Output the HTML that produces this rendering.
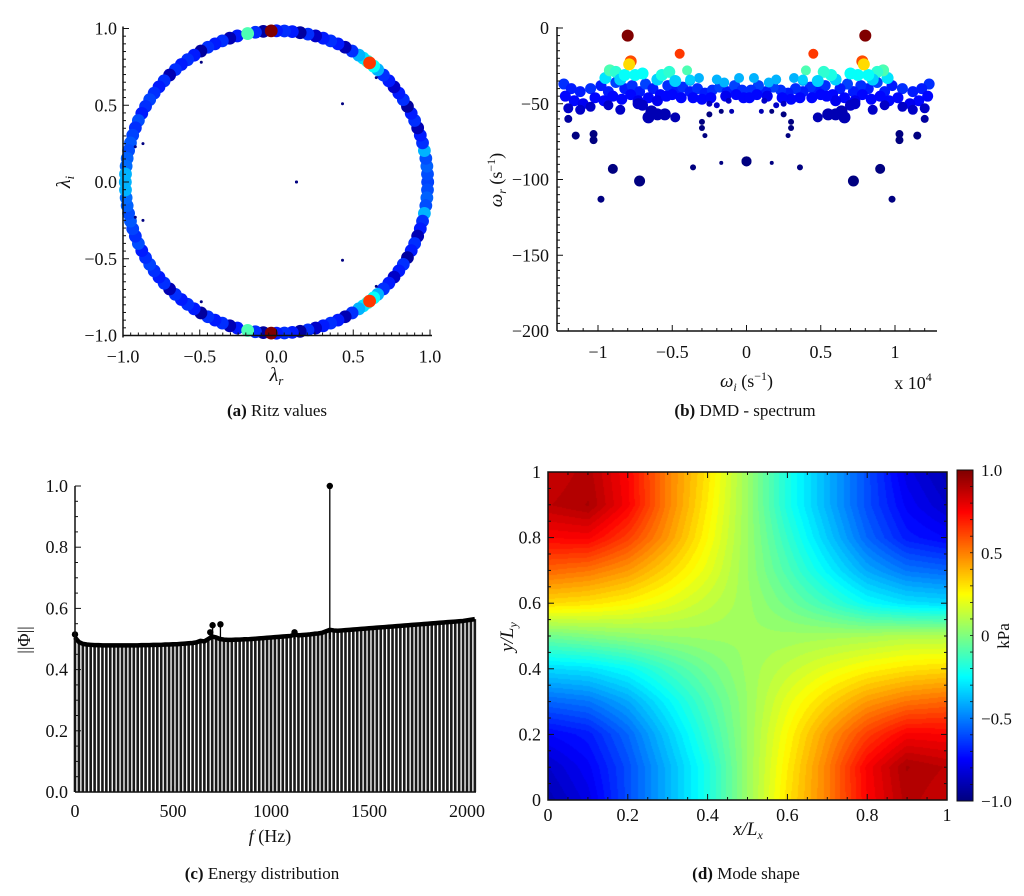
<!DOCTYPE html>
<html><head><meta charset="utf-8"><style>
html,body{margin:0;padding:0;background:#fff;}
#wrap{position:relative;width:1024px;height:896px;overflow:hidden;}
svg{position:absolute;left:0;top:0;}
canvas{position:absolute;}
text{font-family:"Liberation Serif",serif;fill:#111;}
</style></head><body>
<div id="wrap">
<canvas id="heat" style="left:548px;top:472px" width="399" height="328"></canvas>
<canvas id="cbar" style="left:957px;top:470px" width="16" height="331"></canvas>
<svg id="svg" width="1024" height="896"></svg>
</div>
<script>
// ---------- DATA ----------
// (a) Ritz values: upper-half angles (deg), colour levels (0..1); lower half = complex conjugates
const ritzAngles = [0,3,6,9,12,15,18,21,24,27,30,33,36,39,42,45,48,50,53,55,57,60,63,66,69,72,75,78,81,84,87,90,95,98,105,108,111,114,117,120,123,126,129,132,135,138,141,144,147,150,153,156,159,162,165,168,171,174,177,180,101,52,92];
const ritzColors = [0.24,0.25,0.27,0.25,0.3,0.22,0.2,0.1,0.22,0.2,0.08,0.22,0.2,0.12,0.2,0.22,0.3,0.38,0.42,0.35,0.3,0.22,0.1,0.2,0.22,0.2,0.12,0.22,0.08,0.2,0.22,0.2,0.08,0.22,0.2,0.1,0.22,0.2,0.22,0.08,0.2,0.22,0.2,0.22,0.1,0.22,0.2,0.22,0.24,0.22,0.2,0.25,0.22,0.24,0.26,0.25,0.27,0.28,0.3,0.3,0.45,0.82,1.0];
const ritzInnerRe = [-0.49,0.43,0.13,-0.92,-0.87,0.65];
const ritzInnerIm = [0.78,0.51,0,0.23,0.25,0.68];

// (b) DMD spectrum: [omega_i (x1e4), omega_r, marker size, colour level]; conjugate pairs mirrored
const specWi = [-1.23,-1.18,-1.12,-1.05,-0.98,-0.93,-0.88,-0.82,-0.77,-0.72,-0.68,-0.63,-0.58,-0.53,-0.47,-0.43,-0.38,-0.33,-0.28,-0.23,-0.18,-0.13,-0.08,-0.03,
 -1.22,-1.16,-1.1,-1.02,-0.96,-0.9,-0.84,-0.78,-0.73,-0.66,-0.6,-0.54,-0.5,-0.44,-0.36,-0.3,-0.24,-0.14,-0.07,-0.02,
 -1.2,-1.12,-1.05,-0.93,-0.85,-0.7,-0.64,-0.6,-0.66,-0.55,-0.73,-0.12,-0.1,-0.25,-0.2,
 -0.38,-0.32,-0.2,-0.15,-0.05,
 -0.95,-0.92,-0.88,-0.85,-0.82,-0.75,-0.7,-0.6,-0.57,-0.52,-0.48,-0.4,-0.38,
 -1.2,-1.15,-1.03,-1.03,-0.98,-0.9,-0.72,-0.48,-0.36,-0.28,-0.3,-0.3,-0.25,-0.17,-0.17,0,
 -0.78,-0.79,-0.8,-0.45];
const specWr = [-37,-40,-42,-40,-38,-42,-36,-40,-38,-42,-37,-40,-44,-38,-41,-39,-42,-40,-43,-41,-39,-42,-38,-41,
 -45,-48,-50,-46,-48,-45,-47,-44,-48,-46,-48,-45,-44,-46,-46,-47,-46,-45,-44,-46,
 -53,-54,-52,-51,-54,-51,-55,-57,-59,-57,-50,-48,-55,-50,-51,
 -35,-33,-34,-36,-33,
 -33,-28,-29,-34,-31,-31,-30,-34,-31,-29,-35,-28,-34,
 -60,-71,-70,-74,-113,-93,-101,-59,-92,-71,-62,-66,-57,-55,-89,-88,
 -22,-24,-5,-17];
const specSize = [5.5,5.5,5.5,5.5,5.5,5.5,5.5,5.5,5.5,5.5,5.5,5.5,5.5,5.5,5.5,5.5,5.5,5.5,5.5,5.5,5.5,5.5,5.5,5.5,
 5.5,5.5,5.5,5.5,5.5,5.5,5.5,5.5,5.5,5.5,5.5,5.5,5.5,5.5,5.5,5.5,5.5,5.5,5.5,5.5,
 5,5,5,5,5,5.5,6,6,6,6,5.5,3,2.5,3,3,
 5,5,5,5,5,
 6,6,6,6,6,6,6,6,6,6,6,5,5,
 4,4,4,4,3.5,5,5.5,5,3,2.5,3,3,3,2.5,2,5,
 6,6,6,5];
const specColor = [0.22,0.2,0.2,0.22,0.2,0.2,0.24,0.2,0.22,0.2,0.24,0.2,0.18,0.22,0.2,0.22,0.2,0.22,0.2,0.22,0.24,0.2,0.24,0.22,
 0.18,0.18,0.16,0.18,0.18,0.18,0.18,0.18,0.16,0.18,0.16,0.18,0.18,0.18,0.18,0.18,0.18,0.16,0.18,0.18,
 0.12,0.12,0.12,0.12,0.12,0.12,0.1,0.1,0.1,0.1,0.12,0.12,0.1,0.12,0.12,
 0.3,0.3,0.3,0.3,0.3,
 0.35,0.45,0.42,0.33,0.38,0.38,0.38,0.33,0.4,0.42,0.33,0.45,0.33,
 0.08,0.05,0.05,0.05,0.05,0.05,0.05,0.1,0.05,0.05,0.05,0.05,0.05,0.05,0.05,0.05,
 0.8,0.66,1.0,0.82];

// (c) Energy distribution
const freqs = [];
for (let k=0;k<=102;k++) freqs.push(k*20);
const norms = [0.505,0.49,0.484,0.482,0.481,0.48,0.48,0.479,0.479,0.479,0.479,0.479,0.479,0.479,0.479,0.479,0.479,0.48,0.48,0.48,0.481,0.481,0.481,0.482,0.482,0.483,0.483,0.484,0.485,0.486,0.487,0.489,0.494,0.492,0.5,0.508,0.505,0.5,0.498,0.497,0.497,0.498,0.498,0.499,0.499,0.5,0.501,0.502,0.503,0.504,0.505,0.506,0.507,0.508,0.509,0.51,0.515,0.512,0.513,0.514,0.515,0.517,0.518,0.52,0.525,0.53,0.528,0.527,0.528,0.529,0.53,0.531,0.532,0.533,0.534,0.535,0.536,0.537,0.538,0.539,0.54,0.541,0.542,0.543,0.544,0.545,0.546,0.547,0.548,0.549,0.55,0.551,0.552,0.553,0.554,0.555,0.556,0.557,0.558,0.559,0.561,0.563,0.565];
const spikeF = [0,690,702,742,1120,1300];
const spikeV = [0.515,0.522,0.545,0.548,0.522,1.0];

// (d) Mode shape grid (rows y=1.0 -> 0.0, cols x=0 -> 1), kPa
const modeGrid = [
 [0.85,0.9,0.75,0.5,0.3,0.05,-0.2,-0.4,-0.6,-0.8,-0.9],
 [0.88,0.92,0.76,0.5,0.28,0.05,-0.2,-0.4,-0.6,-0.76,-0.85],
 [0.75,0.76,0.63,0.45,0.25,0.05,-0.15,-0.35,-0.55,-0.7,-0.75],
 [0.55,0.52,0.45,0.33,0.2,0.05,-0.1,-0.26,-0.42,-0.52,-0.55],
 [0.32,0.3,0.26,0.2,0.13,0.06,-0.03,-0.13,-0.24,-0.3,-0.32],
 [-0.03,0,0.03,0.05,0.06,0.06,0.06,0.07,0.08,0.1,0.1],
 [-0.32,-0.3,-0.24,-0.13,-0.03,0.06,0.13,0.2,0.26,0.3,0.32],
 [-0.55,-0.52,-0.42,-0.26,-0.1,0.05,0.2,0.33,0.45,0.52,0.55],
 [-0.75,-0.7,-0.55,-0.35,-0.15,0.05,0.25,0.45,0.63,0.76,0.75],
 [-0.85,-0.76,-0.6,-0.4,-0.2,0.05,0.28,0.5,0.76,0.92,0.88],
 [-0.9,-0.8,-0.6,-0.4,-0.2,0.05,0.3,0.5,0.75,0.9,0.85]];
const cbarTicks = [1.0,0.5,0,-0.5,-1.0];
const cbarLabels = ["1.0","0.5","0","\u22120.5","\u22121.0"];

// ---------- HELPERS ----------
const svg = document.getElementById('svg');
const NS = 'http://www.w3.org/2000/svg';
function mk(tag, attrs, parent){const e=document.createElementNS(NS,tag);for(const k in attrs)e.setAttribute(k,attrs[k]);(parent||svg).appendChild(e);return e;}
function jet(v){v=Math.max(0,Math.min(1,v));
 const r=Math.max(0,Math.min(1,Math.min(4*v-1.5,-4*v+4.5)));
 const g=Math.max(0,Math.min(1,Math.min(4*v-0.5,-4*v+3.5)));
 const b=Math.max(0,Math.min(1,Math.min(4*v+0.5,-4*v+2.5)));
 return [Math.round(r*255),Math.round(g*255),Math.round(b*255)];}
function jetS(v){const c=jet(v);return 'rgb('+c.join(',')+')';}
function markColor(v){return jetS(v<0.3?v-0.05:v);}
function txt(x,y,s,opt,name){const t=mk('text',Object.assign({x:x,y:y,'font-size':18,'text-anchor':'middle'},opt||{}));t.textContent=s;
 
 
 return t;}
function line(x1,y1,x2,y2,w,name){const l=mk('line',{x1:x1,y1:y1,x2:x2,y2:y2,stroke:'#111','stroke-width':w||1.5});
 
 
 return l;}
function fmt(v){return (v<0?'\u2212':'')+Math.abs(v).toFixed(1);}

// ---------- (a) Ritz ----------
(function(){
 const cx=276.5, cy=182, s=153.5;
 const X=v=>cx+v*s, Y=v=>cy-v*s;
 const g=mk('g',{});
 
 
 for(let i=0;i<ritzAngles.length;i++){
  const a=ritzAngles[i]*Math.PI/180, r=0.985;
  [1,-1].forEach(sg=>{
   const c=mk('circle',{cx:X(r*Math.cos(a)),cy:Y(sg*r*Math.sin(a)),r:6.4,fill:markColor(ritzColors[i])},g);
   
   
  });
 }
 for(let i=0;i<ritzInnerRe.length;i++){[1,-1].forEach(sg=>{
   const c=mk('circle',{cx:X(ritzInnerRe[i]),cy:Y(sg*ritzInnerIm[i]),r:1.5,fill:'#000080'},g);
   
   });}
 line(X(-1),Y(-1.0)+2,X(-1),Y(1.0)-2,1.5,'y-axis-line');
 line(X(-1),Y(-1),X(1.0)+2,Y(-1),1.5,'x-axis-line');
 for(let k=-20;k<=20;k++){const v=k/20, L=(k%10==0)?6:3;
  line(X(-1),Y(v),X(-1)+L,Y(v),1);
  line(X(v),Y(-1),X(v),Y(-1)-L,1);}
 [-1,-0.5,0,0.5,1].forEach(v=>{txt(X(-1)-6,Y(v)+6,fmt(v),{'text-anchor':'end'},'y-tick-label');txt(X(v),Y(-1)+27,fmt(v),{},'x-tick-label');});
 const xl=txt(X(0),381,'λ',{'font-style':'italic','font-size':20},'x-axis-title');
 const sb=mk('tspan',{'font-size':13,dy:4},xl);sb.textContent='r';
 const yl=txt(0,0,'λ',{'font-style':'italic','font-size':20,transform:'translate(70,182) rotate(-90)'},'y-axis-title');
 const sb2=mk('tspan',{'font-size':13,dy:4},yl);sb2.textContent='i';
 const cap=txt(277,416,'',{'font-size':17},'caption-a');
 const b=mk('tspan',{'font-weight':'bold'},cap);b.textContent='(a)';
 const t=mk('tspan',{},cap);t.textContent=' Ritz values';
})();

// ---------- (b) DMD spectrum ----------
(function(){
 const x0=746.5, sx=148.5, y0=28, sy=75.75/50;
 const X=v=>x0+v*sx, Y=v=>y0-v*sy;
 const g=mk('g',{});
 
 
 for(let i=0;i<specWi.length;i++){[1,-1].forEach(sg=>{
   const c=mk('circle',{cx:X(sg*specWi[i]),cy:Y(specWr[i]),r:specSize[i],fill:markColor(specColor[i])},g);
   
   });}
 const L=557,R=937,B=Y(-200);
 line(L,Y(-200),L,Y(0)-1,1.5,'y-axis-line');
 line(L,B,R,B,1.5,'x-axis-line');
 for(let v=0;v>=-200;v-=5){line(L,Y(v),L+(v%50==0?6:3),Y(v),1);}
 for(let k=-12;k<=12;k++){const v=k/10;line(X(v),B,X(v),B-(k%5==0?6:3),1);}
 [0,-50,-100,-150,-200].forEach(v=>txt(L-8,Y(v)+6,v<0?'\u2212'+(-v):'0',{'text-anchor':'end'},'y-tick-label'));
 [[-1,'\u22121'],[-0.5,'\u22120.5'],[0,'0'],[0.5,'0.5'],[1,'1']].forEach(p=>txt(X(p[0]),B+27,p[1],{},'x-tick-label'));
 const xl=txt(X(0),387,'',{},'x-axis-title');
 const a1=mk('tspan',{'font-style':'italic','font-size':19},xl);a1.textContent='ω';
 const a2=mk('tspan',{'font-style':'italic','font-size':12,dy:4},xl);a2.textContent='i';
 const a3=mk('tspan',{dy:-4},xl);a3.textContent=' (s';
 const a4=mk('tspan',{'font-size':12,dy:-7},xl);a4.textContent='−1';
 const a5=mk('tspan',{dy:7},xl);a5.textContent=')';
 const sc=txt(913,389,'x 10',{},'x-scale-factor');
 const s4=mk('tspan',{'font-size':12,dy:-8},sc);s4.textContent='4';
 const yl=txt(0,0,'',{transform:'translate(502,180) rotate(-90)'},'y-axis-title');
 const b1=mk('tspan',{'font-style':'italic','font-size':19},yl);b1.textContent='ω';
 const b2=mk('tspan',{'font-style':'italic','font-size':12,dy:4},yl);b2.textContent='r';
 const b3=mk('tspan',{dy:-4},yl);b3.textContent=' (s';
 const b4=mk('tspan',{'font-size':12,dy:-7},yl);b4.textContent='−1';
 const b5=mk('tspan',{dy:7},yl);b5.textContent=')';
 const cap=txt(745,416,'',{'font-size':17},'caption-b');
 const b=mk('tspan',{'font-weight':'bold'},cap);b.textContent='(b)';
 const t=mk('tspan',{},cap);t.textContent=' DMD - spectrum';
})();

// ---------- (c) Energy distribution ----------
(function(){
 const X=f=>75+f*0.196, Y=v=>792-v*306;
 const g=mk('g',{});
 
 
 let pts=[];
 for(let i=0;i<freqs.length;i++){
  const l=mk('line',{x1:X(freqs[i]),y1:Y(0),x2:X(freqs[i]),y2:Y(norms[i]),stroke:'#1a1a1a','stroke-width':2.6},g);
  
  
  pts.push(X(freqs[i])+','+Y(norms[i]));
 }
 const pl=mk('polyline',{points:pts.join(' '),fill:'none',stroke:'#000','stroke-width':4.5,'stroke-linejoin':'round'},g);
 
 
 for(let i=0;i<spikeF.length;i++){
  const l=mk('line',{x1:X(spikeF[i]),y1:Y(0.5),x2:X(spikeF[i]),y2:Y(spikeV[i]),stroke:'#000','stroke-width':1.3},g);
  
  
  const c=mk('circle',{cx:X(spikeF[i]),cy:Y(spikeV[i]),r:3.2,fill:'#000'},g);
  
  
 }
 line(75,Y(0),75,Y(1),1.5,'y-axis-line');
 line(75,Y(0),476,Y(0),1.5,'x-axis-line');
 for(let k=0;k<=20;k++){line(75,Y(k/20),75+(k%4==0?6:3),Y(k/20),1);}
 for(let f=0;f<=2050;f+=100){line(X(f),Y(0),X(f),Y(0)-(f%500==0?6:3),1);}
 [0,0.2,0.4,0.6,0.8,1.0].forEach(v=>txt(68,Y(v)+6,v.toFixed(1),{'text-anchor':'end'},'y-tick-label'));
 [0,500,1000,1500,2000].forEach(f=>txt(X(f),Y(0)+25,String(f),{},'x-tick-label'));
 const xl=txt(270,842,'',{},'x-axis-title');
 const a=mk('tspan',{'font-style':'italic'},xl);a.textContent='f';
 const a2=mk('tspan',{},xl);a2.textContent='  (Hz)';
 txt(0,0,'||Φ||',{transform:'translate(30,640) rotate(-90)'},'y-axis-title');
 const cap=txt(262,879,'',{'font-size':17},'caption-c');
 const b=mk('tspan',{'font-weight':'bold'},cap);b.textContent='(c)';
 const t=mk('tspan',{},cap);t.textContent=' Energy distribution';
})();

// ---------- (d) Mode shape ----------
(function(){
 const cv=document.getElementById('heat'),ctx=cv.getContext('2d');
 const W=cv.width,H=cv.height,img=ctx.createImageData(W,H);
 const n=modeGrid.length-1;
 for(let py=0;py<H;py++){for(let px=0;px<W;px++){
  const gx=px/(W-1)*n, gy=py/(H-1)*n;
  const i=Math.min(n-1,Math.floor(gy)), j=Math.min(n-1,Math.floor(gx));
  const fy=gy-i, fx=gx-j;
  const v=(modeGrid[i][j]*(1-fx)+modeGrid[i][j+1]*fx)*(1-fy)+(modeGrid[i+1][j]*(1-fx)+modeGrid[i+1][j+1]*fx)*fy;
  const lv=Math.round((v+1)/2*60)/60;
  const c=jet(lv),o=(py*W+px)*4;
  img.data[o]=c[0];img.data[o+1]=c[1];img.data[o+2]=c[2];img.data[o+3]=255;}}
 ctx.putImageData(img,0,0);
 const cb=document.getElementById('cbar'),c2=cb.getContext('2d');
 for(let y=0;y<cb.height;y++){c2.fillStyle=jetS(1-y/(cb.height-1));c2.fillRect(0,y,cb.width,1);}
 const L=548,R=947,T=472,B=800;
 const X=v=>L+v*(R-L), Y=v=>B-v*(B-T);
 const fr=mk('rect',{x:L,y:T,width:R-L,height:B-T,fill:'none',stroke:'#111','stroke-width':1.5});
 
 
 for(let k=0;k<=20;k++){const v=k/20,l=(k%4==0)?6:3;
  line(X(v),B,X(v),B-l,1);line(X(v),T,X(v),T+l,1);
  line(L,Y(v),L+l,Y(v),1);line(R,Y(v),R-l,Y(v),1);}
 ['0','0.2','0.4','0.6','0.8','1'].forEach((s,k)=>{txt(X(k*0.2),821,s,{},'x-tick-label');txt(L-7,Y(k*0.2)+6,s,{'text-anchor':'end'},'y-tick-label');});
 const cf=mk('rect',{x:957,y:470,width:16,height:331,fill:'none',stroke:'#111','stroke-width':1});
 
 
 for(let k=0;k<=20;k++){const y=470+k*331/20;line(973,y,970,y,0.8);}
 for(let i=0;i<cbarTicks.length;i++){txt(981,470+(1-cbarTicks[i])/2*331+6,cbarLabels[i],{'text-anchor':'start','font-size':17},'colorbar-tick-label');}
 txt(0,0,'kPa',{transform:'translate(1009,636) rotate(-90)','font-size':17},'colorbar-title');
 const xl=txt(748,835,'',{'font-size':19},'x-axis-title');
 const a=mk('tspan',{'font-style':'italic'},xl);a.textContent='x/L';
 const a2=mk('tspan',{'font-style':'italic','font-size':12,dy:4},xl);a2.textContent='x';
 const yl=txt(0,0,'',{transform:'translate(513,637) rotate(-90)','font-size':19},'y-axis-title');
 const b1=mk('tspan',{'font-style':'italic'},yl);b1.textContent='y/L';
 const b2=mk('tspan',{'font-style':'italic','font-size':12,dy:4},yl);b2.textContent='y';
 const cap=txt(746,879,'',{'font-size':17},'caption-d');
 const b=mk('tspan',{'font-weight':'bold'},cap);b.textContent='(d)';
 const t=mk('tspan',{},cap);t.textContent=' Mode shape';
})();
</script>
</body></html>
